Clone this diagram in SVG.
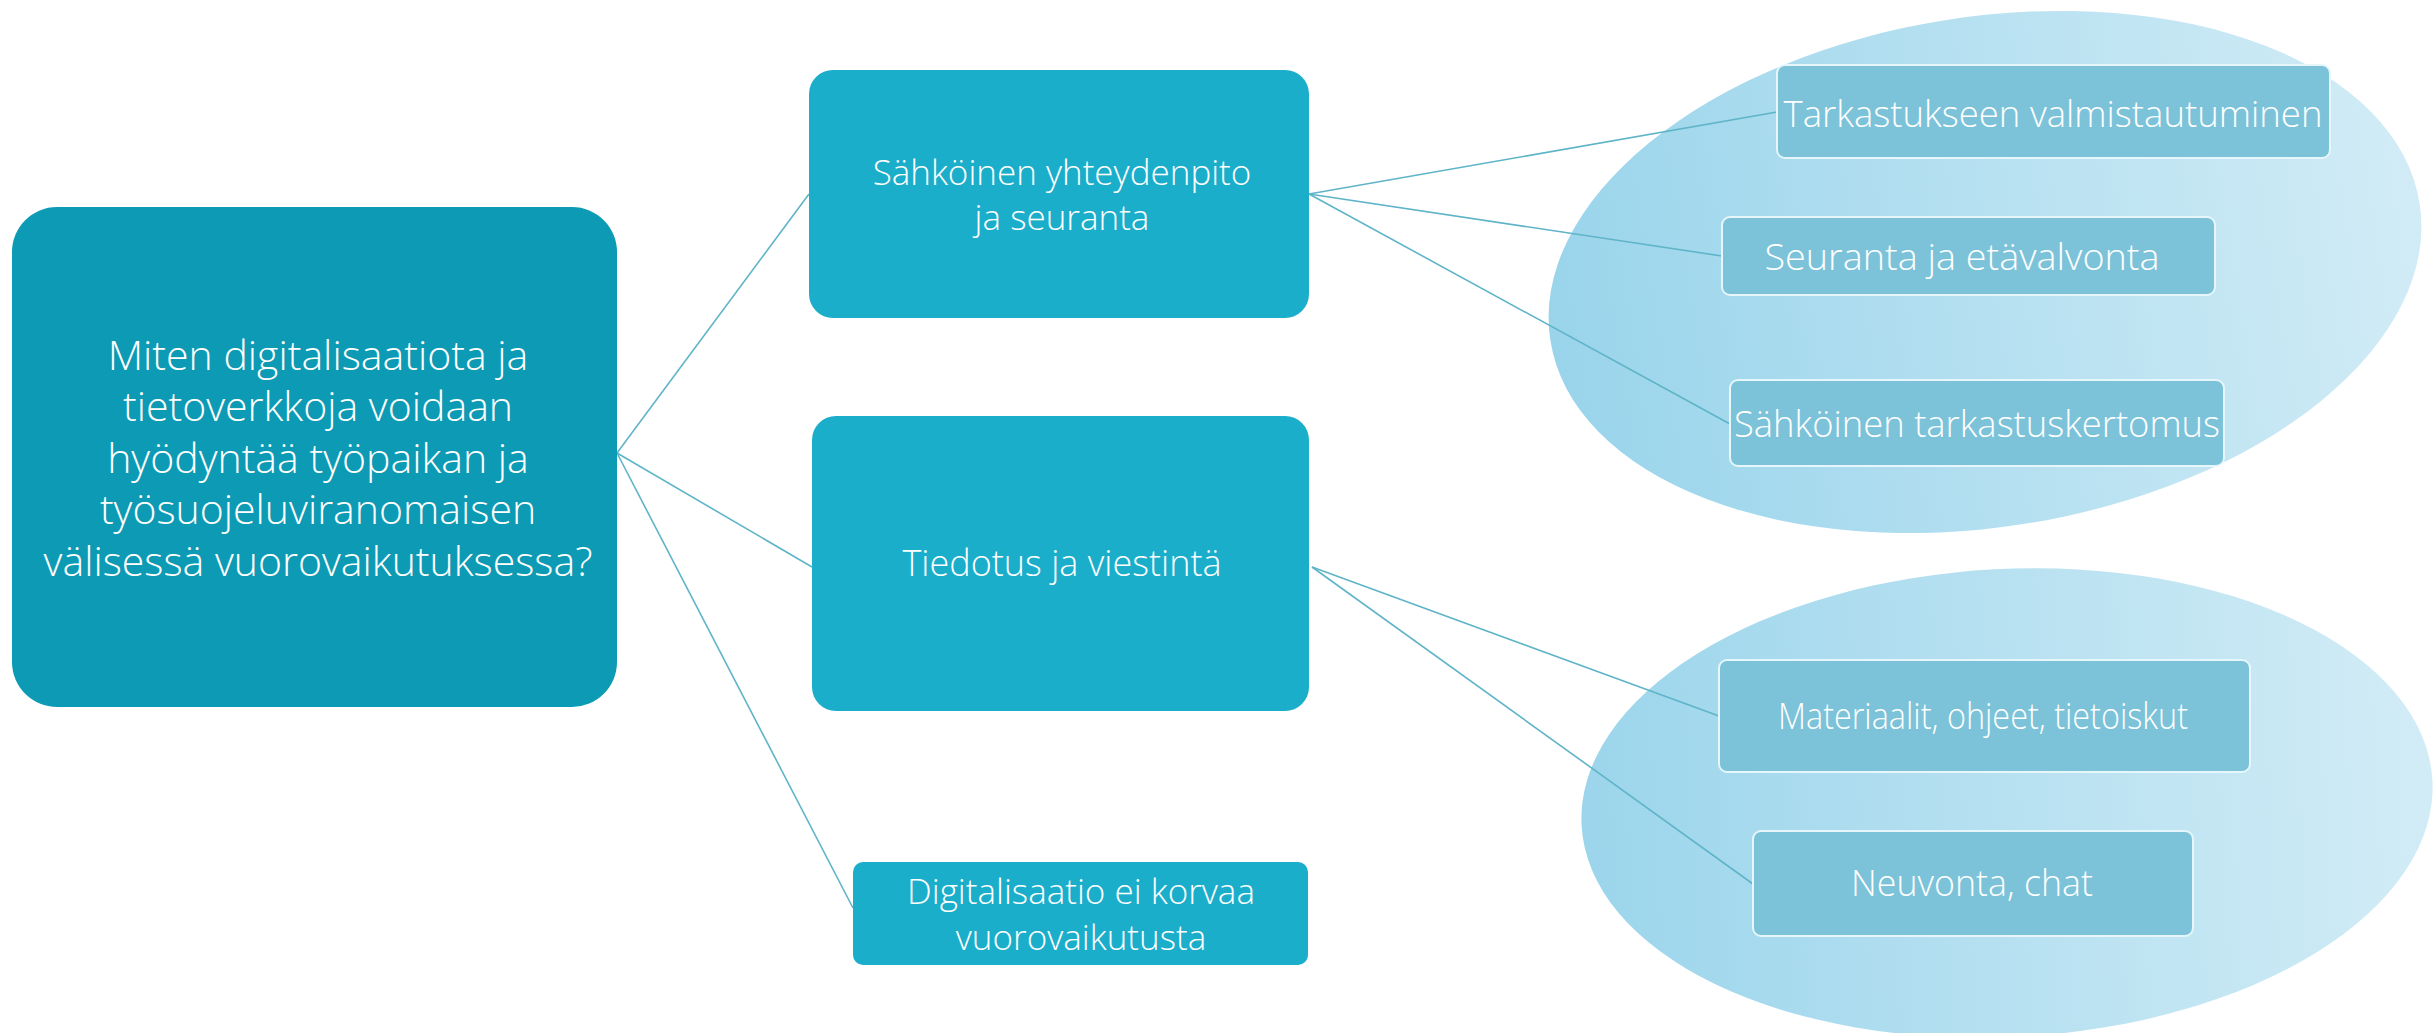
<svg xmlns="http://www.w3.org/2000/svg" width="2435" height="1033" viewBox="0 0 2435 1033">
<defs>
<linearGradient id="ellGrad" gradientUnits="userSpaceOnUse" x1="1540" y1="0" x2="2435" y2="0">
<stop offset="0" stop-color="#99d4eb"/>
<stop offset="1" stop-color="#d2ecf6"/>
</linearGradient>
<style>
.t{font-family:"Open Sans","Segoe UI","Liberation Sans",sans-serif;font-weight:300;fill:#ffffff;text-anchor:middle}
.main{fill:#0c9ab4}
.mid{fill:#1aaecb}
.sub{fill:#7cc3d9;stroke:#e6f6fb;stroke-width:2}
.ell{fill:url(#ellGrad)}
.con{stroke:#5fb4c8;stroke-width:1.6;fill:none}
</style>
</defs>
<rect width="2435" height="1033" fill="#ffffff"/>
<g id="ellipse-top"><ellipse class="ell" cx="1985" cy="272" rx="440" ry="255" transform="rotate(-9 1985 272)"/></g>
<g id="ellipse-bottom"><ellipse class="ell" cx="2007" cy="803" rx="426" ry="234" transform="rotate(-3 2007 803)"/></g>
<g id="connectors">
<line class="con" x1="617" y1="453" x2="809" y2="194"/>
<line class="con" x1="617" y1="453" x2="812" y2="567"/>
<line class="con" x1="617" y1="453" x2="853" y2="908"/>
<line class="con" x1="1309" y1="194" x2="1777" y2="112"/>
<line class="con" x1="1309" y1="194" x2="1722" y2="256"/>
<line class="con" x1="1309" y1="194" x2="1730" y2="424"/>
<line class="con" x1="1312" y1="567" x2="1719" y2="716"/>
<line class="con" x1="1312" y1="567" x2="1753" y2="884"/>
</g>
<g id="node-main">
<rect class="main" x="12" y="207" width="605" height="500" rx="45"/>
<text class="t" font-size="41"><tspan x="318" y="370">Miten digitalisaatiota ja</tspan><tspan x="318" y="421">tietoverkkoja voidaan</tspan><tspan x="318" y="473">hyödyntää työpaikan ja</tspan><tspan x="318" y="524">työsuojeluviranomaisen</tspan><tspan x="318" y="576">välisessä vuorovaikutuksessa?</tspan></text>
</g>
<g id="node-sahkoinen">
<rect class="mid" x="809" y="70" width="500" height="248" rx="24"/>
<text class="t" font-size="35"><tspan x="1062" y="185">Sähköinen yhteydenpito</tspan><tspan x="1062" y="230">ja seuranta</tspan></text>
</g>
<g id="node-tiedotus">
<rect class="mid" x="812" y="416" width="497" height="295" rx="24"/>
<text class="t" x="1062" y="576" font-size="36">Tiedotus ja viestintä</text>
</g>
<g id="node-digi">
<rect class="mid" x="853" y="862" width="455" height="103" rx="10"/>
<text class="t" font-size="35"><tspan x="1081" y="904">Digitalisaatio ei korvaa</tspan><tspan x="1081" y="950">vuorovaikutusta</tspan></text>
</g>
<g id="node-tarkastukseen">
<rect class="sub" x="1777" y="65" width="553" height="93" rx="8"/>
<text class="t" x="2053" y="127" font-size="36" textLength="539" lengthAdjust="spacingAndGlyphs">Tarkastukseen valmistautuminen</text>
</g>
<g id="node-seuranta">
<rect class="sub" x="1722" y="217" width="493" height="78" rx="8"/>
<text class="t" x="1962" y="270" font-size="36" textLength="395" lengthAdjust="spacingAndGlyphs">Seuranta ja etävalvonta</text>
</g>
<g id="node-kertomus">
<rect class="sub" x="1730" y="380" width="494" height="86" rx="8"/>
<text class="t" x="1977" y="437" font-size="36" textLength="486" lengthAdjust="spacingAndGlyphs">Sähköinen tarkastuskertomus</text>
</g>
<g id="node-materiaalit">
<rect class="sub" x="1719" y="660" width="531" height="112" rx="8"/>
<text class="t" x="1983" y="729" font-size="36" textLength="410" lengthAdjust="spacingAndGlyphs">Materiaalit, ohjeet, tietoiskut</text>
</g>
<g id="node-neuvonta">
<rect class="sub" x="1753" y="831" width="440" height="105" rx="8"/>
<text class="t" x="1972" y="896" font-size="36" textLength="242" lengthAdjust="spacingAndGlyphs">Neuvonta, chat</text>
</g>
</svg>
